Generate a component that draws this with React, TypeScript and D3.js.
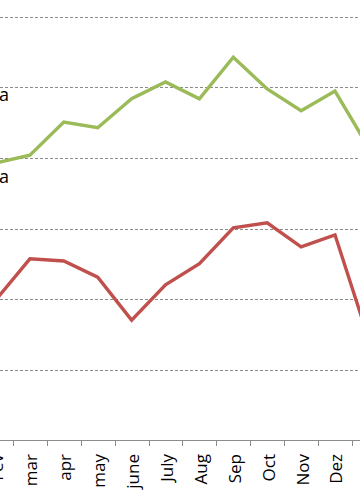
import React from "react";
import * as d3 from "d3";

const categories = ["Fev", "mar", "apr", "may", "june", "July", "Aug", "Sep", "Oct", "Nov", "Dez", "Jan"];
const greenValues = [39.3, 40.4, 45.1, 44.3, 48.4, 50.8, 48.4, 54.3, 49.8, 46.7, 49.5, 41.4];
const redValues = [19.9, 25.7, 25.4, 23.1, 17.0, 22.0, 25.0, 30.1, 30.8, 27.4, 29.1, 14.2];
const gridValues = [10, 20, 30, 40, 50, 60];
const sideLabels = [{ text: "a", value: 48.1 }, { text: "a", value: 36.5 }];

const W = 360;
const H = 504;

export default function App() {
  const x = d3
    .scaleBand<number>()
    .domain(d3.range(categories.length))
    .range([-20.95, -20.95 + 33.9 * categories.length])
    .padding(0);
  const y = d3.scaleLinear().domain([0, 60]).range([440, 17]);
  const cx = (i: number) => (x(i) as number) + x.bandwidth() / 2;
  const line = d3
    .line<number>()
    .x((_, i) => cx(i))
    .y((d) => y(d));
  const tickXs = d3.range(categories.length + 1).map((i) => -20.95 + 33.9 * i);
  const font = "Open Sans, Liberation Sans, DejaVu Sans, sans-serif";

  return (
    <svg
      width={W}
      height={H}
      style={{ position: "fixed", left: 0, top: 0, background: "#fff" }}
    >
      <rect width={W} height={H} fill="#fff" />
      {gridValues.map((v) => (
        <line
          key={v}
          x1={0}
          x2={W}
          y1={Math.round(y(v)) + 0.5}
          y2={Math.round(y(v)) + 0.5}
          stroke="#8a8a8a"
          strokeWidth={1}
          strokeDasharray="3,2"
        />
      ))}
      <line x1={0} x2={W} y1={440.5} y2={440.5} stroke="#8c8c8c" strokeWidth={1} />
      {tickXs.map((t, i) => (
        <line
          key={i}
          x1={Math.round(t) + 0.5}
          x2={Math.round(t) + 0.5}
          y1={440}
          y2={446}
          stroke="#8c8c8c"
          strokeWidth={1}
        />
      ))}
      {categories.map((c, i) =>
        cx(i) < W ? (
          <text
            key={c + i}
            transform={`translate(${cx(i) + 1.5},${454}) rotate(-90)`}
            textAnchor="end"
            dy="0.35em"
            fontFamily={font}
            fontSize={17}
            fill="#000"
          >
            {c}
          </text>
        ) : null
      )}
      <path d={line(greenValues) || ""} fill="none" stroke="#9BBB59" strokeWidth={3.4} strokeLinejoin="miter" />
      <path d={line(redValues) || ""} fill="none" stroke="#C0504D" strokeWidth={3.4} strokeLinejoin="miter" />
      {sideLabels.map((l, i) => (
        <text
          key={i}
          x={9}
          y={y(l.value)}
          textAnchor="end"
          fontFamily={font}
          fontSize={18}
          fill="#000"
        >
          {l.text}
        </text>
      ))}
    </svg>
  );
}
